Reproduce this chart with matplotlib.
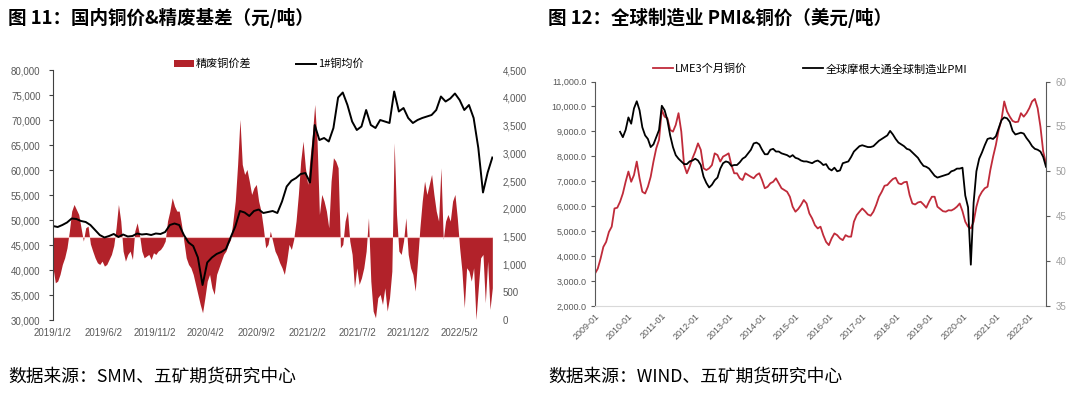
import numpy as np
import pandas as pd
import matplotlib
matplotlib.use("Agg")
import matplotlib.pyplot as plt
from matplotlib.patches import Patch
from matplotlib.lines import Line2D

plt.rcParams['font.family'] = ['Noto Sans CJK SC', 'DejaVu Sans']

NUM_FONT = ['Liberation Sans', 'DejaVu Sans']
BAR_RED = '#B2222A'
LINE_RED = '#C02B3A'
GREY = '#595959'

# ---------- 图11 data (weekly spread, bi-weekly price) ----------
spread = [
    940, 670, 700, 820, 1000, 1120, 1300, 1600, 1960, 2080,
    1990, 1900, 1660, 1420, 1660, 1690, 1370, 1240, 1120, 1030,
    1000, 1060, 970, 1000, 1090, 1180, 1340, 1660, 2080, 1780,
    1240, 1060, 1180, 1240, 1090, 1600, 1750, 1540, 1240, 1120,
    1150, 1180, 1090, 1210, 1180, 1240, 1270, 1330, 1420, 1780,
    1960, 2200, 2050, 1960, 1960, 1720, 1420, 1120, 1000, 940,
    820, 640, 460, 280, 130, 400, 700, 820, 580, 460,
    820, 940, 1060, 1180, 1240, 1360, 1450, 1780, 2140, 2800,
    3610, 2800, 2620, 2710, 2500, 2260, 2380, 2440, 2140, 1960,
    1660, 1300, 1360, 1600, 1420, 1240, 1150, 1030, 940, 820,
    1060, 1360, 1270, 1450, 1780, 2260, 2860, 3220, 2740, 2440,
    2920, 3340, 3880, 3220, 1900, 2260, 2140, 1960, 1660, 2500,
    2920, 2860, 2740, 1300, 1360, 1780, 1960, 1420, 1180, 580,
    940, 640, 760, 940, 1240, 1840, 700, 160, 40, 400,
    460, 280, 580, 160, 400, 880, 3190, 1900, 1240, 1180,
    1420, 1840, 1180, 940, 820, 520, 1060, 1660, 2140, 2500,
    2260, 2440, 2620, 2260, 1960, 1780, 2740, 1450, 1780, 1900,
    1780, 2140, 2260, 1840, 1300, 880, 220, 940, 880, 700,
    940, 10, 580, 1120, 1180, 310, 1060, 190, 580,
]
price = [
    48800, 48600, 49000, 49500, 50300, 50200, 49800, 49600, 49000, 48000,
    47000, 46500, 46800, 47200, 46600, 47100, 46700, 46800, 47300, 47100,
    47200, 47000, 47300, 47200, 47600, 49000, 49300, 49000, 47000, 45500,
    44800, 42500, 37000, 41500, 42500, 43200, 43600, 44200, 46500, 48700,
    51800, 51500, 50800, 51800, 52100, 51400, 51600, 51800, 51400, 53700,
    56700, 57850, 58400, 59200, 59400, 57500, 69000, 66000, 66400, 65700,
    68400, 74500, 75500, 73000, 69700, 68000, 68700, 72000, 69000, 68400,
    70000, 69700, 69400, 75700, 71700, 72400, 70400, 69400, 70000, 70400,
    70700, 71000, 72000, 74700, 73700, 74300, 75300, 74000, 72000, 73000,
    70400, 64400, 55500, 59500, 62500,
]
spread_dates = pd.date_range('2019-01-02', periods=len(spread), freq='7D')
price_dates = pd.date_range('2019-01-02', periods=len(price), freq='14D')
date_ticks = ['2019/1/2', '2019/6/2', '2019/11/2', '2020/4/2', '2020/9/2',
              '2021/2/2', '2021/7/2', '2021/12/2', '2022/5/2']

# ---------- 图12 data (monthly, 2009-01 ..) ----------
lme = [
    3300, 3500, 3900, 4370, 4570, 4970, 5180, 5910, 5940, 6180,
    6510, 6980, 7390, 6980, 7250, 7790, 7120, 6580, 6510, 6780,
    7180, 7790, 8320, 8660, 9860, 9590, 9530, 9060, 8990, 9260,
    9730, 8990, 7650, 7320, 7590, 7920, 8190, 8520, 8260, 7520,
    7450, 7520, 7650, 8120, 8050, 7790, 7990, 8050, 8120, 7650,
    7320, 7320, 7120, 7050, 7320, 7250, 7180, 7120, 7250, 7320,
    7050, 6720, 6780, 6920, 6980, 7120, 6920, 6720, 6650, 6580,
    6380, 5980, 5780, 5890, 6050, 6250, 6110, 5710, 5510, 5240,
    5110, 5180, 4840, 4570, 4440, 4710, 4910, 4840, 4710, 4640,
    4840, 4780, 4780, 5380, 5640, 5780, 5910, 5800, 5670, 5620,
    5780, 6050, 6380, 6580, 6820, 6850, 6980, 7090, 7140, 6920,
    6880, 6960, 6980, 6450, 6110, 6070, 6150, 6180, 6070, 5940,
    6180, 6380, 6380, 5980, 5890, 5800, 5780, 5840, 5830, 5890,
    5980, 6110, 5800, 5380, 5180, 5110, 5380, 5980, 6380, 6580,
    6720, 6780, 7450, 7990, 8460, 9060, 9460, 10200, 9800, 9590,
    9420, 9370, 9390, 9730, 9590, 9730, 9930, 10200, 10300, 9930,
    9190, 8190, 7720,
]
pmi_start = 9  # PMI begins 2009-10
pmi = [
    54.4, 53.8, 54.6, 56.0, 55.3, 57.0, 57.8, 56.8, 54.9, 54.0, 53.6,
    52.7, 53.0, 53.8, 54.6, 57.3, 56.8, 55.7, 54.0, 52.7, 51.8,
    51.4, 51.1, 50.8, 50.8, 51.1, 51.2, 51.4, 51.2, 50.7, 49.4,
    48.7, 48.2, 48.5, 49.0, 49.3, 50.3, 50.9, 51.1, 51.0, 50.6,
    50.7, 50.7, 51.0, 51.4, 51.6, 52.0, 52.4, 53.1, 53.2, 53.0,
    52.4, 51.9, 51.9, 52.4, 52.5, 52.2, 52.2, 52.0, 51.9, 51.8,
    51.6, 51.8, 51.5, 51.4, 51.2, 51.1, 51.1, 51.0, 50.9, 51.1,
    51.2, 51.0, 50.7, 50.8, 50.3, 50.1, 50.4, 50.0, 50.1, 50.9,
    51.0, 51.1, 51.6, 52.2, 52.5, 52.8, 52.9, 52.8, 52.7, 52.7,
    52.8, 53.1, 53.4, 53.6, 53.8, 54.0, 54.5, 54.1, 53.6, 53.2,
    53.0, 52.8, 52.5, 52.4, 52.1, 51.8, 51.5, 51.0, 50.6, 50.5,
    50.3, 49.9, 49.5, 49.3, 49.4, 49.5, 49.6, 49.7, 50.0, 50.1,
    50.3, 50.3, 50.4, 47.3, 46.0, 39.6, 46.5, 50.0, 51.4, 52.1,
    52.9, 53.6, 53.7, 53.6, 53.9, 54.8, 55.7, 56.0, 55.9, 55.5,
    54.5, 54.1, 54.2, 54.3, 54.2, 53.7, 53.3, 52.8, 52.5, 52.4,
    52.2, 51.6, 50.5,
]
year_labels = ['%d-01' % y for y in range(2009, 2023)]

fig = plt.figure(figsize=(10.8, 3.97), dpi=100)
W, H = 1080, 397

def frac(x0, y0, x1, y1):
    return [x0 / W, 1 - y1 / H, (x1 - x0) / W, (y1 - y0) / H]

# ================= left chart =================
ax1 = fig.add_axes(frac(53, 70, 493, 320))
ax1r = ax1.twinx()
ax1r.fill_between(spread_dates, 1500, spread, color=BAR_RED, lw=0)
ax1r.axhline(1500, color='#F2C4C4', lw=0.8)
ax1r.set_ylim(0, 4500)
ax1.plot(price_dates, price, color='black', lw=1.4)
ax1.set_ylim(30000, 80000)
ax1.set_xlim(pd.Timestamp('2019-01-02'), pd.Timestamp('2022-08-12'))
ax1.set_zorder(ax1r.get_zorder() + 1)
ax1.patch.set_visible(False)

for s in ax1.spines.values():
    s.set_visible(False)
for s in ax1r.spines.values():
    s.set_visible(False)
ax1.spines['left'].set_visible(True)
ax1.spines['left'].set_color('#404040')
ax1.spines['left'].set_linewidth(0.8)

yt = np.arange(30000, 80001, 5000)
ax1.set_yticks(yt, ['{:,}'.format(v) for v in yt], fontfamily=NUM_FONT)
ax1.tick_params(axis='y', direction='out', length=3, width=0.8, color='#404040',
                labelsize=7, labelcolor=GREY, pad=6)
ax1.set_xticks(pd.to_datetime(date_ticks, format='%Y/%m/%d'), date_ticks,
               fontfamily=NUM_FONT)
ax1.tick_params(axis='x', length=0, labelsize=7, labelcolor=GREY, pad=6)
yt2 = np.arange(0, 4501, 500)
ax1r.set_yticks(yt2, ['{:,}'.format(v) for v in yt2], fontfamily=NUM_FONT)
ax1r.tick_params(axis='y', length=0, labelsize=7, labelcolor=GREY, pad=7)

fig.legend([Patch(facecolor=BAR_RED), Line2D([], [], color='black', lw=1.4)],
           ['精废铜价差', '1#铜均价'], loc='center',
           bbox_to_anchor=(269 / W, 1 - 64 / H), ncol=2, frameon=False,
           fontsize=8, handlelength=1.8, handleheight=0.6, handletextpad=0.2,
           columnspacing=4.0)

# ================= right chart =================
ax2 = fig.add_axes(frac(595, 81.5, 1046, 306))
ax2r = ax2.twinx()
x = np.arange(len(lme))
ax2.plot(x, lme, color=LINE_RED, lw=1.3)
ax2r.plot(x[pmi_start:pmi_start + len(pmi)], pmi, color='black', lw=1.3)
ax2.set_xlim(0, len(lme) - 1)
ax2.set_ylim(2000, 11000)
ax2r.set_ylim(35, 60)

for s in ax2.spines.values():
    s.set_visible(False)
for s in ax2r.spines.values():
    s.set_visible(False)
ax2.spines['left'].set_visible(True)
ax2.spines['left'].set_color(GREY)
ax2.spines['bottom'].set_visible(True)
ax2.spines['bottom'].set_color('#D9D9D9')
ax2r.spines['right'].set_visible(True)
ax2r.spines['right'].set_color(GREY)

yt3 = np.arange(2000, 11001, 1000)
ax2.set_yticks(yt3, ['{:,.1f}'.format(v) for v in yt3], fontfamily=NUM_FONT)
ax2.tick_params(axis='y', direction='out', length=3, color=GREY,
                labelsize=6.5, labelcolor=GREY, pad=3)
ax2.set_xticks(np.arange(0, 12 * len(year_labels), 12), year_labels,
               fontfamily=NUM_FONT, rotation=45, ha='right',
               rotation_mode='anchor')
ax2.tick_params(axis='x', length=0, labelsize=6.5, labelcolor=GREY, pad=4)
yt4 = np.arange(35, 61, 5)
ax2r.set_yticks(yt4, [str(v) for v in yt4], fontfamily=NUM_FONT)
ax2r.tick_params(axis='y', direction='out', length=3, color=GREY,
                 labelsize=7, labelcolor='#A0A0A0', pad=4)

fig.legend([Line2D([], [], color=LINE_RED, lw=1.3),
            Line2D([], [], color='black', lw=1.3)],
           ['LME3个月铜价', '全球摩根大通全球制造业PMI'], loc='center',
           bbox_to_anchor=(810 / W, 1 - 69 / H), ncol=2, frameon=False,
           fontsize=8, handlelength=1.8, handletextpad=0.2, columnspacing=5.0)

# ================= titles and sources =================
fig.text(8 / W, 1 - 18 / H, '图 11：国内铜价&精废基差（元/吨）',
         fontsize=13.3, fontweight='bold', va='center', ha='left')
fig.text(548 / W, 1 - 18 / H, '图 12：全球制造业 PMI&铜价（美元/吨）',
         fontsize=13.3, fontweight='bold', va='center', ha='left')
fig.text(8 / W, 1 - 376 / H, '数据来源：SMM、五矿期货研究中心',
         fontsize=12.8, va='center', ha='left')
fig.text(548 / W, 1 - 376 / H, '数据来源：WIND、五矿期货研究中心',
         fontsize=12.8, va='center', ha='left')

fig.savefig('out.png', dpi=100)
